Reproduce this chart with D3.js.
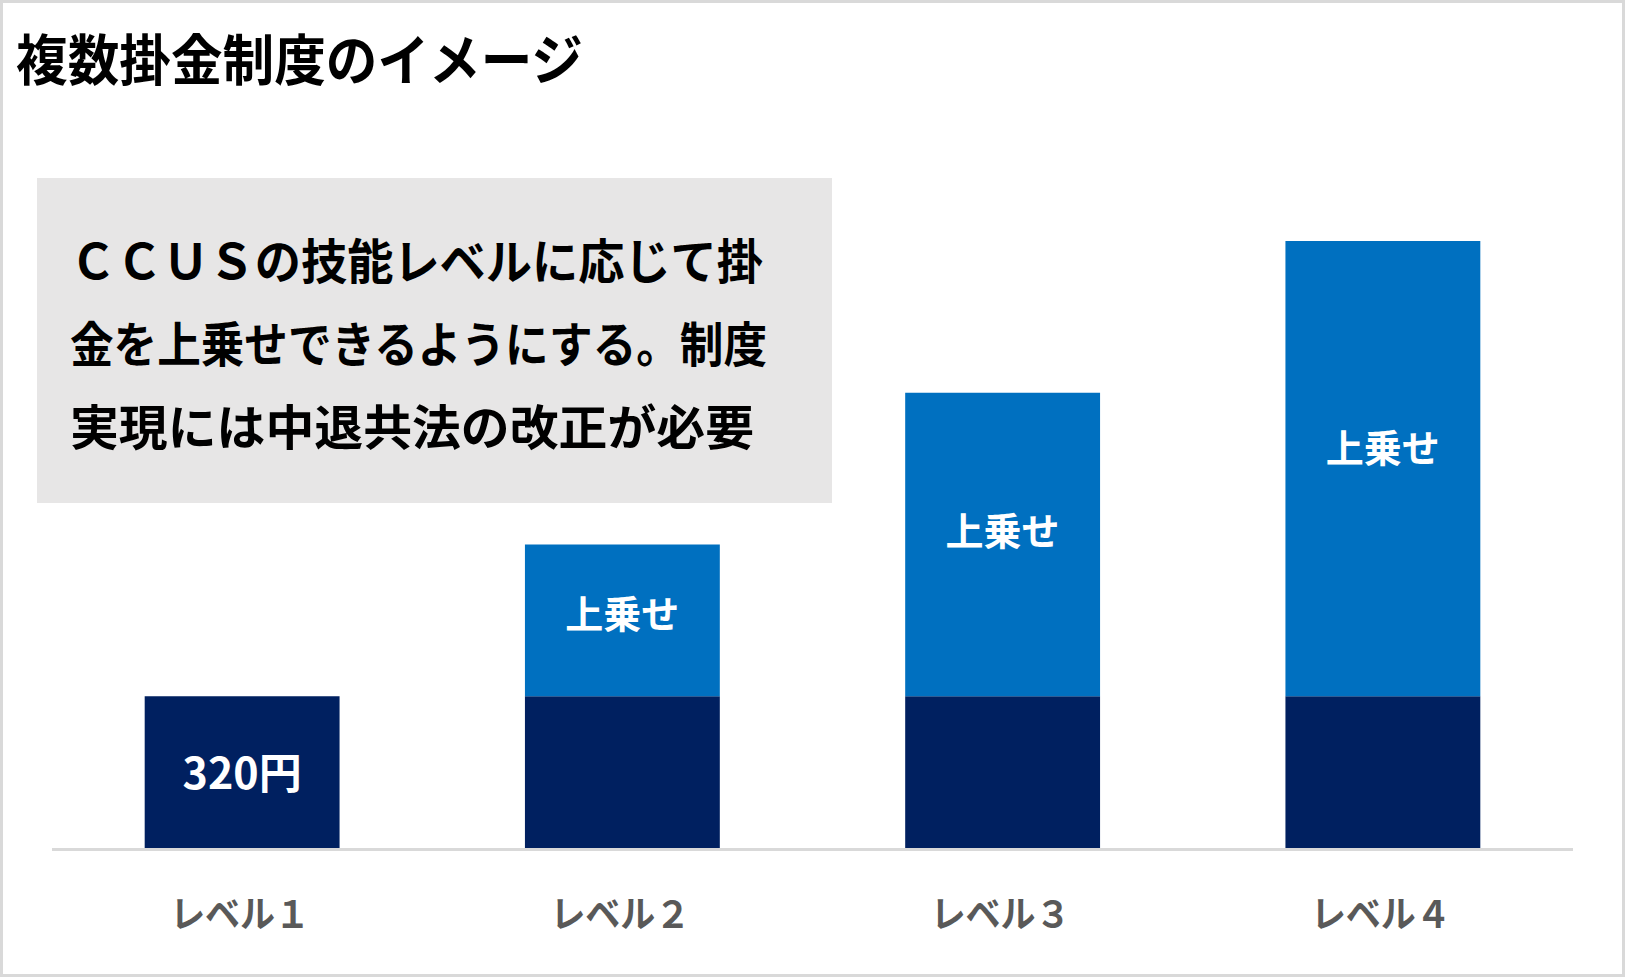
<!DOCTYPE html>
<html>
<head>
<meta charset="utf-8">
<script src="https://cdn.jsdelivr.net/npm/d3@7"></script>
<style>
  html, body { margin: 0; padding: 0; background: #fff; }
  svg { display: block; }
  text { font-family: "Noto Sans CJK JP", "Noto Sans", sans-serif; }
</style>
</head>
<body>
<div id="chart"></div>
<script>
const titleText = "複数掛金制度のイメージ";
const levels = ["レベル１", "レベル２", "レベル３", "レベル４"];
const baseValues = [320, 320, 320, 320];
const extraValues = [0, 320, 640, 960];
const baseLabels = ["320円", "", "", ""];
const extraLabel = "上乗せ";
const noteLines = [
    "ＣＣＵＳの技能レベルに応じて掛",
    "金を上乗せできるようにする。制度",
    "実現には中退共法の改正が必要"
];

function createBarChart() {
    const w = 1625;
    const h = 977;
    const baseY = 848;
    const topY = 241;

    const rows = levels.map(function(d, i) {
        return { level: d, base: baseValues[i], extra: extraValues[i], label: baseLabels[i] };
    });
    const stacked = d3.stack().keys(["base", "extra"])(rows);

    /* SCALES */
    const xScale = d3.scaleBand()
        .domain(levels)
        .range([52, 1573])
        .paddingInner(0.4875)
        .paddingOuter(0.24375);

    const yScale = d3.scaleLinear()
        .domain([0, d3.max(rows, function(d) { return d.base + d.extra; })])
        .range([baseY, topY]);

    const colors = { base: "#002060", extra: "#0070c0" };

    /* SVG */
    const svg = d3.select("#chart")
        .append("svg")
        .attr("width", w)
        .attr("height", h);

    svg.append("rect")
        .attr("x", 1.5).attr("y", 1.5)
        .attr("width", w - 3).attr("height", h - 3)
        .style("fill", "#fff")
        .style("stroke", "#d9d9d9")
        .style("stroke-width", 3);

    /* TITLE */
    svg.append("text")
        .attr("x", 16)
        .attr("y", 80)
        .attr("textLength", 567)
        .attr("lengthAdjust", "spacingAndGlyphs")
        .style("font-size", "55px")
        .style("font-weight", "bold")
        .style("fill", "#000")
        .text(titleText);

    /* NOTE BOX */
    svg.append("rect")
        .attr("x", 37).attr("y", 178)
        .attr("width", 795).attr("height", 325)
        .style("fill", "#e7e6e6");

    const noteLengths = [693, 697, 684];
    svg.selectAll(".note")
        .data(noteLines)
        .enter()
        .append("text")
        .attr("class", "note")
        .attr("x", 70)
        .attr("y", function(d, i) { return 279 + i * 83; })
        .attr("textLength", function(d, i) { return noteLengths[i]; })
        .attr("lengthAdjust", "spacingAndGlyphs")
        .style("font-size", "48px")
        .style("font-weight", "bold")
        .style("fill", "#000")
        .text(function(d) { return d; });

    /* BARS */
    const groups = svg.selectAll(".series")
        .data(stacked)
        .enter()
        .append("g")
        .attr("class", "series")
        .style("fill", function(d) { return colors[d.key]; });

    groups.selectAll("rect")
        .data(function(d) { return d; })
        .enter()
        .append("rect")
        .attr("x", function(d) { return xScale(d.data.level); })
        .attr("y", function(d) { return yScale(d[1]); })
        .attr("width", xScale.bandwidth())
        .attr("height", function(d) { return yScale(d[0]) - yScale(d[1]); });

    /* BASELINE */
    svg.append("line")
        .attr("x1", xScale.range()[0])
        .attr("x2", xScale.range()[1])
        .attr("y1", baseY + 1.5)
        .attr("y2", baseY + 1.5)
        .style("stroke", "#d9d9d9")
        .style("stroke-width", 3);

    /* BAR LABELS */
    svg.selectAll(".base-label")
        .data(rows.filter(function(d) { return d.label !== ""; }))
        .enter()
        .append("text")
        .attr("class", "base-label")
        .attr("x", function(d) { return xScale(d.level) + xScale.bandwidth() / 2; })
        .attr("y", function(d) { return (yScale(0) + yScale(d.base)) / 2 + 17; })
        .style("text-anchor", "middle")
        .style("font-size", "43px")
        .style("font-weight", "bold")
        .style("fill", "#fff")
        .text(function(d) { return d.label; });

    svg.selectAll(".extra-label")
        .data(rows.filter(function(d) { return d.extra > 0; }))
        .enter()
        .append("text")
        .attr("class", "extra-label")
        .attr("x", function(d) { return xScale(d.level) + xScale.bandwidth() / 2; })
        .attr("y", function(d) {
            const t = yScale(d.base + d.extra);
            const b = yScale(d.base);
            return t + (b - t) * 0.455 + 14;
        })
        .style("text-anchor", "middle")
        .style("font-size", "38px")
        .style("font-weight", "bold")
        .style("fill", "#fff")
        .text(extraLabel);

    /* CATEGORY AXIS */
    svg.selectAll(".cat")
        .data(levels)
        .enter()
        .append("text")
        .attr("class", "cat")
        .attr("x", function(d) { return xScale(d) + xScale.bandwidth() / 2 - 72; })
        .attr("y", 928)
        .attr("textLength", 140)
        .attr("lengthAdjust", "spacingAndGlyphs")
        .style("font-size", "37px")
        .style("font-weight", "bold")
        .style("fill", "#595959")
        .text(function(d) { return d; });
}

createBarChart();
</script>
</body>
</html>
